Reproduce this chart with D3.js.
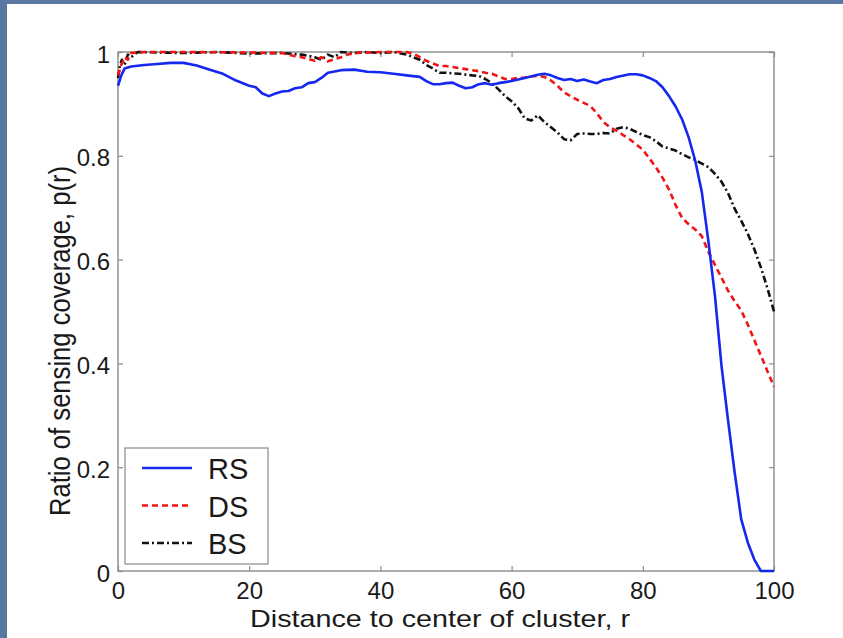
<!DOCTYPE html>
<html lang="en">
<head>
  <meta charset="UTF-8">
  <title>Sensing coverage</title>
  <script src="https://d3js.org/d3.v7.min.js"></script>
  <style>
    body { margin: 0; background: #5878a2; }
    text { font-family: "Liberation Sans", Arial, sans-serif; fill: #1a1a1a; }
  </style>
</head>
<body>
  <div id="chart"></div>
  <script>
    // values (r, p(r))
    const rsR = [0, 0.5, 1, 2, 4, 6, 8, 10, 12, 14, 16, 18, 20, 21, 22, 23, 24, 25, 26, 27, 28, 29, 30, 31, 32, 34, 36, 38, 40, 42, 44, 46, 47, 48, 49, 50, 51, 52, 53, 54, 55, 56, 57, 58, 60, 62, 64, 65, 66, 67, 68, 69, 70, 71, 72, 73, 74, 75, 76, 78, 79, 80, 81, 82, 83, 84, 85, 86, 87, 88, 89, 90, 91, 92, 93, 94, 95, 96, 97, 98, 100];
    const rsP = [0.935, 0.955, 0.968, 0.972, 0.975, 0.977, 0.979, 0.979, 0.974, 0.966, 0.958, 0.945, 0.935, 0.932, 0.92, 0.915, 0.92, 0.924, 0.925, 0.93, 0.932, 0.94, 0.942, 0.95, 0.96, 0.965, 0.966, 0.962, 0.961, 0.958, 0.955, 0.952, 0.944, 0.938, 0.938, 0.94, 0.941, 0.935, 0.93, 0.932, 0.938, 0.94, 0.937, 0.94, 0.944, 0.95, 0.956, 0.958, 0.955, 0.95, 0.946, 0.948, 0.944, 0.947, 0.943, 0.94, 0.946, 0.948, 0.952, 0.957, 0.957, 0.955, 0.95, 0.944, 0.932, 0.915, 0.895, 0.87, 0.835, 0.79, 0.73, 0.635, 0.53, 0.395, 0.29, 0.19, 0.1, 0.055, 0.022, 0, 0];

    const dsR = [0, 0.5, 1, 1.5, 2, 4, 10, 20, 25, 27, 28, 30, 31, 32, 33, 34, 35, 36, 40, 44, 45, 46, 47, 48, 49, 50, 51, 52, 53, 54, 55, 56, 57, 58, 59, 60, 61, 62, 63, 64, 65, 66, 67, 68, 69, 70, 71, 72, 73, 74, 75, 76, 77, 78, 79, 80, 81, 82, 83, 84, 85, 86, 87, 88, 89, 90, 91, 92, 93, 94, 95, 96, 97, 98, 99, 100];
    const dsP = [0.955, 0.975, 0.99, 0.985, 0.998, 1, 1, 0.999, 0.998, 0.992, 0.99, 0.983, 0.99, 0.982, 0.986, 0.99, 0.995, 0.998, 1, 1, 0.997, 0.99, 0.983, 0.978, 0.973, 0.973, 0.971, 0.969, 0.967, 0.965, 0.963, 0.96, 0.958, 0.953, 0.948, 0.948, 0.95, 0.951, 0.953, 0.954, 0.952, 0.945, 0.935, 0.922, 0.915, 0.908, 0.902, 0.896, 0.882, 0.865, 0.855, 0.848, 0.84, 0.832, 0.822, 0.812, 0.795, 0.778, 0.758, 0.735, 0.705, 0.68, 0.668, 0.658, 0.645, 0.615, 0.59, 0.565, 0.54, 0.52, 0.502, 0.475, 0.445, 0.415, 0.385, 0.355];

    const bsR = [0, 0.3, 0.6, 1, 1.5, 2, 3, 10, 15, 20, 25, 28, 30, 31, 32, 33, 34, 36, 38, 40, 42, 44, 45, 46, 47, 48, 49, 50, 52, 54, 55, 56, 57, 58, 59, 60, 61, 62, 63, 64, 65, 66, 67, 68, 69, 70, 71, 72, 73, 74, 75, 76, 77, 78, 79, 80, 81, 82, 83, 84, 85, 86, 87, 88, 89, 90, 91, 92, 93, 94, 95, 96, 97, 98, 99, 100];
    const bsP = [0.95, 0.975, 0.985, 0.975, 0.995, 0.99, 1, 0.998, 1, 0.997, 0.998, 0.995, 0.99, 0.985, 0.995, 0.99, 1, 0.998, 1, 0.998, 1, 0.995, 0.99, 0.985, 0.975, 0.968, 0.96, 0.96, 0.958, 0.955, 0.954, 0.948, 0.94, 0.928, 0.915, 0.905, 0.892, 0.872, 0.868, 0.878, 0.865, 0.855, 0.845, 0.832, 0.83, 0.842, 0.843, 0.842, 0.842, 0.844, 0.843, 0.852, 0.855, 0.852, 0.846, 0.84, 0.836, 0.828, 0.818, 0.814, 0.81, 0.803, 0.797, 0.792, 0.785, 0.778, 0.765, 0.75, 0.728, 0.698, 0.675, 0.65, 0.62, 0.585, 0.545, 0.5];

    const seriesNames = ["RS", "DS", "BS"];
    const xTicks = [0, 20, 40, 60, 80, 100];
    const yTicks = [0, 0.2, 0.4, 0.6, 0.8, 1];

    const width = 843, height = 638;
    const plot = { left: 118, right: 774, top: 52, bottom: 571 };

    const svg = d3.select("#chart").append("svg")
      .attr("width", width)
      .attr("height", height)
      .style("display", "block");

    // white slide area
    svg.append("rect")
      .attr("x", 7).attr("y", 4)
      .attr("width", width - 7).attr("height", height - 4)
      .attr("fill", "#fff");

    const x = d3.scaleLinear().domain([0, 100]).range([plot.left, plot.right]);
    const y = d3.scaleLinear().domain([0, 1]).range([plot.bottom, plot.top]);
    const fmt = d3.format("~g");

    function styleAxis(g) {
      g.select(".domain").remove();
      g.selectAll(".tick line").attr("stroke", "#8a8a8a").attr("stroke-width", 1.2);
      g.selectAll(".tick text").attr("font-size", 24).attr("fill", "#1a1a1a")
        .attr("font-family", "'Liberation Sans', Arial, sans-serif");
    }

    svg.append("g")
      .attr("transform", `translate(0,${plot.bottom})`)
      .call(d3.axisBottom(x).tickValues(xTicks).tickFormat(fmt).tickSizeInner(-5).tickSizeOuter(0).tickPadding(11))
      .call(styleAxis);
    svg.append("g")
      .attr("transform", `translate(0,${plot.top})`)
      .call(d3.axisTop(x).tickValues(xTicks).tickFormat("").tickSizeInner(-5).tickSizeOuter(0))
      .call(styleAxis);
    svg.append("g")
      .attr("transform", `translate(${plot.left},0)`)
      .call(d3.axisLeft(y).tickValues(yTicks).tickFormat(fmt).tickSizeInner(-5).tickSizeOuter(0).tickPadding(8))
      .call(styleAxis)
      .call(g => g.selectAll(".tick text").attr("dy", "0.42em"));
    svg.append("g")
      .attr("transform", `translate(${plot.right},0)`)
      .call(d3.axisRight(y).tickValues(yTicks).tickFormat("").tickSizeInner(-5).tickSizeOuter(0))
      .call(styleAxis);

    svg.append("rect")
      .attr("x", plot.left).attr("y", plot.top)
      .attr("width", plot.right - plot.left).attr("height", plot.bottom - plot.top)
      .attr("fill", "none").attr("stroke", "#8a8a8a").attr("stroke-width", 1.4);

    const styles = [
      { color: "#1428f0", dash: null },
      { color: "#f01414", dash: "6,4" },
      { color: "#111", dash: "7,3,2,3" }
    ];
    const series = [
      d3.zip(rsR, rsP),
      d3.zip(dsR, dsP),
      d3.zip(bsR, bsP)
    ];

    const line = d3.line().x(d => x(d[0])).y(d => y(d[1]));

    // draw BS, DS, RS so blue sits on top
    [2, 1, 0].forEach(i => {
      svg.append("path")
        .datum(series[i])
        .attr("d", line)
        .attr("fill", "none")
        .attr("stroke", styles[i].color)
        .attr("stroke-width", 2.6)
        .attr("stroke-linejoin", "round")
        .attr("stroke-dasharray", styles[i].dash);
    });

    // legend
    const lg = svg.append("g");
    lg.append("rect")
      .attr("x", 125).attr("y", 448)
      .attr("width", 143).attr("height", 116)
      .attr("fill", "#fff").attr("stroke", "#8a8a8a").attr("stroke-width", 1.2);
    seriesNames.forEach((name, i) => {
      const cy = 468 + i * 37.5;
      lg.append("line")
        .attr("x1", 142).attr("x2", 192)
        .attr("y1", cy).attr("y2", cy)
        .attr("stroke", styles[i].color)
        .attr("stroke-width", 2.6)
        .attr("stroke-dasharray", styles[i].dash);
      lg.append("text")
        .attr("x", 208).attr("y", cy + 11)
        .attr("font-size", 29)
        .text(name);
    });

    svg.append("text")
      .attr("x", 250)
      .attr("y", 627)
      .attr("font-size", 24)
      .attr("textLength", 380)
      .attr("lengthAdjust", "spacingAndGlyphs")
      .text("Distance to center of cluster, r");

    svg.append("text")
      .attr("transform", "translate(70,516) rotate(-90)")
      .attr("font-size", 30)
      .attr("textLength", 350)
      .attr("lengthAdjust", "spacingAndGlyphs")
      .text("Ratio of sensing coverage, p(r)");
  </script>
</body>
</html>
